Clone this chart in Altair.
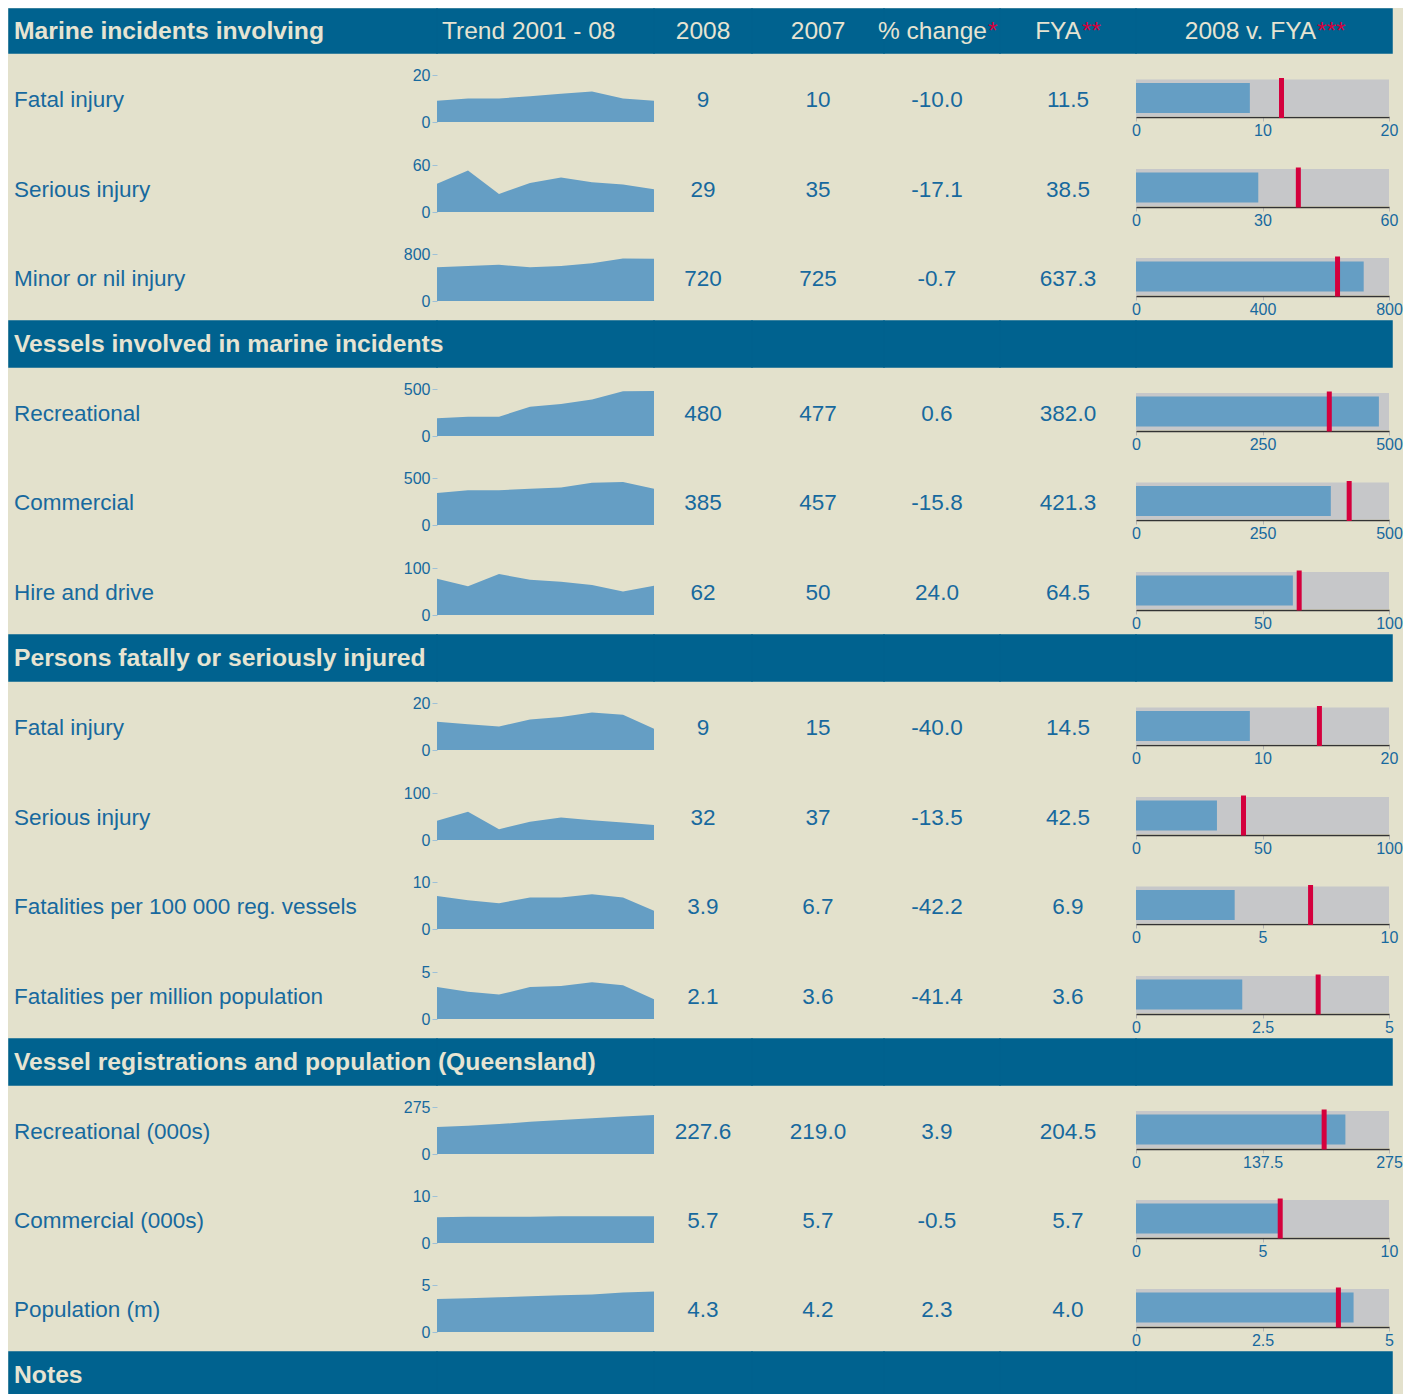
import altair as alt
import pandas as pd

# ---------------- colours / fonts ----------------
BG = "#E3E1CC"
BAND = "#00628F"
INK = "#17699E"
AREA = "#659EC4"
GREY = "#C6C7C9"
RED = "#D4003D"
HEAD = "#E6E4D2"
TICK = "#9DC0D8"
FONT = "Liberation Sans"

# ---------------- data ----------------
section_titles = [
    "Marine incidents involving",
    "Vessels involved in marine incidents",
    "Persons fatally or seriously injured",
    "Vessel registrations and population (Queensland)",
]
notes_title = "Notes"
header_trend = "Trend 2001 - 08"
header_cols = ["2008", "2007", "% change", "FYA", "2008 v. FYA"]
header_stars = ["", "", "*", "**", "***"]

row_section = [0, 0, 0, 1, 1, 1, 2, 2, 2, 2, 3, 3, 3]
row_labels = [
    "Fatal injury", "Serious injury", "Minor or nil injury",
    "Recreational", "Commercial", "Hire and drive",
    "Fatal injury", "Serious injury", "Fatalities per 100 000 reg. vessels",
    "Fatalities per million population",
    "Recreational (000s)", "Commercial (000s)", "Population (m)",
]
years = [2001, 2002, 2003, 2004, 2005, 2006, 2007, 2008]

trend_marine_fatal = [9, 10, 10, 11, 12, 13, 10, 9]
trend_marine_serious = [36, 53, 23, 37, 44, 38, 35, 29]
trend_marine_minor = [573, 596, 618, 573, 596, 641, 725, 720]
trend_vessel_rec = [190, 205, 205, 310, 340, 387, 477, 480]
trend_vessel_com = [340, 370, 370, 385, 400, 450, 457, 385]
trend_vessel_hire = [77, 61, 87, 75, 71, 64, 50, 62]
trend_person_fatal = [12, 11, 10, 13, 14, 16, 15, 9]
trend_person_serious = [41, 60, 23, 39, 48, 42, 37, 32]
trend_rate_vessels = [7.0, 6.1, 5.5, 6.7, 6.7, 7.4, 6.7, 3.9]
trend_rate_pop = [3.4, 2.9, 2.6, 3.4, 3.5, 3.9, 3.6, 2.1]
trend_reg_rec = [158, 166, 175, 188, 199, 209, 219.0, 227.6]
trend_reg_com = [5.5, 5.6, 5.6, 5.6, 5.7, 5.7, 5.7, 5.7]
trend_pop = [3.5, 3.6, 3.7, 3.8, 3.9, 4.0, 4.2, 4.3]
trends = [
    trend_marine_fatal, trend_marine_serious, trend_marine_minor,
    trend_vessel_rec, trend_vessel_com, trend_vessel_hire,
    trend_person_fatal, trend_person_serious, trend_rate_vessels, trend_rate_pop,
    trend_reg_rec, trend_reg_com, trend_pop,
]
scale_max = [20, 60, 800, 500, 500, 100, 20, 100, 10, 5, 275, 10, 5]

col_2008 = ["9", "29", "720", "480", "385", "62", "9", "32", "3.9", "2.1", "227.6", "5.7", "4.3"]
col_2007 = ["10", "35", "725", "477", "457", "50", "15", "37", "6.7", "3.6", "219.0", "5.7", "4.2"]
col_pct = ["-10.0", "-17.1", "-0.7", "0.6", "-15.8", "24.0", "-40.0", "-13.5", "-42.2", "-41.4", "3.9", "-0.5", "2.3"]
col_fya = ["11.5", "38.5", "637.3", "382.0", "421.3", "64.5", "14.5", "42.5", "6.9", "3.6", "204.5", "5.7", "4.0"]
bullet_value = [9, 29, 720, 480, 385, 62, 9, 32, 3.9, 2.1, 227.6, 5.7, 4.3]
bullet_fya = [11.5, 38.5, 637.3, 382.0, 421.3, 64.5, 14.5, 42.5, 6.9, 3.6, 204.5, 5.7, 4.0]

# ---------------- layout ----------------
W_LABEL, W_SPARK, W_C1, W_C2, W_C3, W_C4, W_BUL, W_BUL_BAND = 428, 217, 98, 132, 116, 136, 253, 256
band_heights = [44, 46, 46, 46, 46]
row_heights = [90, 89, 89, 89, 90, 89, 90, 89, 90, 89, 89, 89, 89]
SPARK_TOP, SPARK_H = 22, 47
BUL_AXIS = 64
ROW_DY = 2
BAND_DY = 1
TITLE_SIZE = 24.7
HEAD_SIZE = 24.5
ROW_SIZE = 22.5


def props(w, h, fill=None):
    p = dict(width=w, height=h)
    if fill:
        p["view"] = alt.ViewBackground(fill=fill, stroke=fill, strokeWidth=1.5)
    return p


def left_text(text, w, h, size, color, weight="normal", fill=None, dx=5, dy=0):
    df = pd.DataFrame({"k": ["a"], "t": [text]})
    return alt.Chart(df).mark_text(
        align="left", baseline="middle", dx=dx, dy=dy, font=FONT, fontSize=size,
        fontWeight=weight, color=color,
    ).encode(
        x=alt.X("k:N", axis=None, bandPosition=0,
                scale=alt.Scale(type="band", paddingInner=0, paddingOuter=0)),
        text="t:N",
    ).properties(**props(w, h, fill))


def center_text(text, w, h, size, color, dx=0, dy=0, fill=None):
    df = pd.DataFrame({"t": [text]})
    return alt.Chart(df).mark_text(
        align="center", baseline="middle", dx=dx, dy=dy, font=FONT, fontSize=size, color=color,
    ).encode(text="t:N").properties(**props(w, h, fill))


def star_header(main, stars, w, h, anchor):
    df = pd.DataFrame({"m": [main], "s": [stars]})
    base = alt.Chart(df)
    t1 = base.mark_text(align="right", baseline="middle", dx=anchor, dy=BAND_DY, font=FONT,
                        fontSize=HEAD_SIZE, color=HEAD).encode(text="m:N")
    t2 = base.mark_text(align="left", baseline="middle", dx=anchor + 1, dy=BAND_DY, font=FONT,
                        fontSize=HEAD_SIZE, color=RED).encode(text="s:N")
    return alt.layer(t1, t2).properties(**props(w, h, BAND))


def spark(vals, m, h):
    df = pd.DataFrame({"year": years, "v": vals})
    return alt.Chart(df).mark_area(color=AREA, opacity=1).encode(
        x=alt.X("year:Q", axis=None,
                scale=alt.Scale(domain=[years[0], years[-1]], nice=False, zero=False)),
        y=alt.Y("v:Q", title=None,
                scale=alt.Scale(domain=[0, m], nice=False,
                                range=[SPARK_TOP + SPARK_H, SPARK_TOP]),
                axis=alt.Axis(values=[0, m], labelExpr="'' + datum.value", grid=False,
                              domain=False, tickColor=TICK, tickSize=5, labelPadding=2,
                              labelColor=INK, labelFontSize=16, labelFont=FONT)),
    ).properties(**props(W_SPARK, h))


def bullet(val, fya, m, h):
    df = pd.DataFrame({"k": ["a"], "lo": [0], "hi": [m], "v": [val], "f": [fya]})
    xs = alt.Scale(domain=[0, m], nice=False, zero=True)
    ax = alt.Axis(values=[0, m / 2, m], labelExpr="'' + datum.value", grid=False,
                  labelFlush=False, domainColor="#333333", domainWidth=1.5,
                  tickColor="#B5B5B5", tickSize=4, labelPadding=1, labelColor=INK,
                  labelFontSize=16, labelFont=FONT, offset=BUL_AXIS - h)
    y = alt.Y("k:N", axis=None, scale=alt.Scale(type="band", paddingInner=0, paddingOuter=0))
    base = alt.Chart(df)
    grey = base.mark_bar(color=GREY, size=37, opacity=1).encode(
        x=alt.X("lo:Q", scale=xs, axis=ax, title=None), x2="hi:Q", y=y)
    blue = base.mark_bar(color=AREA, size=30, opacity=1).encode(
        x=alt.X("v:Q", scale=xs, axis=ax, title=None), y=y)
    red = base.mark_tick(color=RED, thickness=5, size=40, opacity=1).encode(
        x=alt.X("f:Q", scale=xs, axis=ax, title=None), y=y)
    return alt.layer(grey, blue, red).properties(**props(W_BUL, h))


def band_row(title, h, with_headers):
    # title is drawn in the second cell so that no later cell paints over it
    spark_layers = [left_text(title, W_SPARK, h, TITLE_SIZE, HEAD, "bold", BAND,
                              dx=5 - W_LABEL, dy=BAND_DY)]
    if with_headers:
        spark_layers.append(left_text(header_trend, W_SPARK, h, HEAD_SIZE, HEAD, "normal",
                                      BAND, dy=BAND_DY))
    spark_cell = alt.layer(*spark_layers).properties(**props(W_SPARK, h, BAND))
    cells = [center_text("", W_LABEL, h, 24, HEAD, fill=BAND), spark_cell]
    if with_headers:
        cells.append(center_text(header_cols[0], W_C1, h, HEAD_SIZE, HEAD, 0, BAND_DY, BAND))
        cells.append(center_text(header_cols[1], W_C2, h, HEAD_SIZE, HEAD, 0, BAND_DY, BAND))
        cells.append(star_header(header_cols[2], header_stars[2], W_C3, h, 45))
        cells.append(star_header(header_cols[3], header_stars[3], W_C4, h, 13))
        cells.append(star_header(header_cols[4], header_stars[4], W_BUL_BAND, h, 52))
    else:
        for w in [W_C1, W_C2, W_C3, W_C4, W_BUL_BAND]:
            cells.append(center_text("", w, h, 24, HEAD, fill=BAND))
    return cells


def metric_row(i, h):
    return [
        left_text(row_labels[i], W_LABEL, h, ROW_SIZE, INK, dy=ROW_DY),
        spark(trends[i], scale_max[i], h),
        center_text(col_2008[i], W_C1, h, ROW_SIZE, INK, dy=ROW_DY),
        center_text(col_2007[i], W_C2, h, ROW_SIZE, INK, dy=ROW_DY),
        center_text(col_pct[i], W_C3, h, ROW_SIZE, INK, dx=-5, dy=ROW_DY),
        center_text(col_fya[i], W_C4, h, ROW_SIZE, INK, dy=ROW_DY),
        bullet(bullet_value[i], bullet_fya[i], scale_max[i], h),
    ]


cells = []
for s, title in enumerate(section_titles):
    cells += band_row(title, band_heights[s], s == 0)
    for i, sec in enumerate(row_section):
        if sec == s:
            cells += metric_row(i, row_heights[i])
cells += band_row(notes_title, band_heights[4], False)

chart = alt.concat(
    *cells, columns=7, spacing=0, bounds="flush", align="each"
).properties(
    padding={"left": 0, "top": 0, "right": 0, "bottom": 0}
).configure(
    background=BG
).configure_view(
    stroke="transparent"
)

chart.save("out.html", embed_options={"renderer": "svg", "actions": False})
